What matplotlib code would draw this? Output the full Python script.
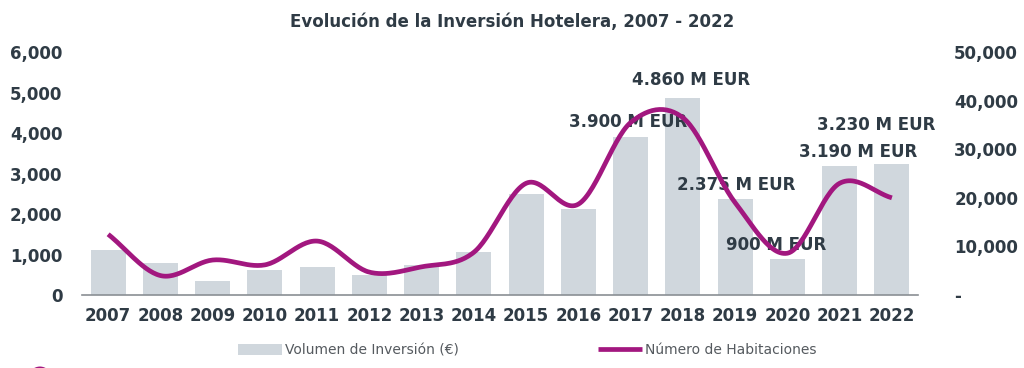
'''Evolucion de la inversion hotelera 2007-2022: barras de volumen y linea de habitaciones.'''

import numpy as np
import matplotlib
matplotlib.use('Agg')
import matplotlib.pyplot as plt
from matplotlib.ticker import FuncFormatter
from matplotlib.patches import Ellipse

YEARS = ['2007', '2008', '2009', '2010', '2011', '2012', '2013', '2014',
         '2015', '2016', '2017', '2018', '2019', '2020', '2021', '2022']
VOLUMEN = [1100, 800, 350, 620, 700, 490, 730, 1060,
           2490, 2120, 3900, 4860, 2375, 900, 3190, 3230]
HABITACIONES = [12500, 4000, 7200, 6200, 11100, 4700, 5800, 8800,
                23000, 18700, 35500, 36500, 19000, 8600, 23000, 20000]
LABELS = {10: '3.900 M EUR', 11: '4.860 M EUR', 12: '2.375 M EUR',
          13: '900 M EUR', 14: '3.190 M EUR', 15: '3.230 M EUR'}
LABEL_OFFSETS = {10: (-3, 15), 11: (8, 18), 12: (1, 14),
                 13: (-11, 14), 14: (18, 14), 15: (-16, 39)}

BAR_COLOR = '#d0d7dd'
LINE_COLOR = '#a2177f'
TEXT_COLOR = '#2f3b45'


def smooth(x, y, n=30):
    '''Curva suavizada tipo Excel (Catmull-Rom) a traves de los puntos.'''
    x = np.asarray(x, float)
    y = np.asarray(y, float)
    px = np.concatenate([[2 * x[0] - x[1]], x, [2 * x[-1] - x[-2]]])
    py = np.concatenate([[2 * y[0] - y[1]], y, [2 * y[-1] - y[-2]]])
    xs, ys = [], []
    t = np.linspace(0, 1, n)
    for i in range(1, len(px) - 2):
        for p, out in ((px, xs), (py, ys)):
            p0, p1, p2, p3 = p[i - 1], p[i], p[i + 1], p[i + 2]
            c1 = p1 + (p2 - p0) / 6
            c2 = p2 - (p3 - p1) / 6
            out.extend((1 - t) ** 3 * p1 + 3 * (1 - t) ** 2 * t * c1
                       + 3 * (1 - t) * t ** 2 * c2 + t ** 3 * p2)
    return np.array(xs), np.array(ys)


def main():
    plt.rcParams['font.family'] = ['DejaVu Sans']
    fig = plt.figure(figsize=(10.24, 3.68), dpi=100)
    ax = fig.add_axes([0.0801, 0.1984, 0.8164, 0.660])
    ax2 = ax.twinx()

    x = np.arange(len(YEARS))
    ax.bar(x, VOLUMEN, width=0.67, color=BAR_COLOR, label='Volumen de Inversión (€)', zorder=1)
    sx, sy = smooth(x, HABITACIONES)
    ax2.plot(sx, sy, color=LINE_COLOR, lw=3.4, solid_capstyle='butt',
             label='Número de Habitaciones')

    ax.set_xlim(-0.5, len(YEARS) - 0.5)
    ax.set_ylim(0, 6000)
    ax2.set_ylim(0, 50000)
    ax.set_yticks(range(0, 6001, 1000))
    ax2.set_yticks(range(0, 50001, 10000))
    ax.yaxis.set_major_formatter(FuncFormatter(lambda v, p: f'{int(v):,}'))
    ax2.yaxis.set_major_formatter(FuncFormatter(lambda v, p: f'{int(v):,}' if v > 0 else '-'))
    ax.set_xticks(x)
    ax.set_xticklabels(YEARS)

    for a in (ax, ax2):
        for s in a.spines.values():
            s.set_visible(False)
        a.tick_params(length=0, labelsize=12, labelcolor=TEXT_COLOR)
        for lab in a.get_xticklabels() + a.get_yticklabels():
            lab.set_fontweight('bold')
    ax.spines['bottom'].set_visible(True)
    ax.spines['bottom'].set_color('#8a8f94')
    ax.spines['bottom'].set_linewidth(1.2)
    ax.tick_params(axis='y', pad=14)
    ax.tick_params(axis='x', pad=9)
    ax2.tick_params(axis='y', pad=26)

    for i, txt in LABELS.items():
        dx, dy = LABEL_OFFSETS[i]
        ax.annotate(txt, (x[i], VOLUMEN[i]), xytext=(dx * 0.72, dy * 0.72),
                    textcoords='offset points', ha='center', va='center',
                    fontsize=12, fontweight='bold', color='#2f3b45', zorder=5)

    fig.text(0.5, 0.94, 'Evolución de la Inversión Hotelera, 2007 - 2022',
             ha='center', va='center', fontsize=12, fontweight='bold', color=TEXT_COLOR)

    h1, l1 = ax.get_legend_handles_labels()
    h2, l2 = ax2.get_legend_handles_labels()
    fig.legend(h1 + h2, l1 + l2, loc='center', bbox_to_anchor=(0.515, 0.048), ncol=2,
               frameon=False, fontsize=10, labelcolor='#555a5f', handlelength=3.2,
               handletextpad=0.2, columnspacing=10, handleheight=0.9)

    # trozo de circulo decorativo cortado en la esquina inferior
    fig.patches.append(Ellipse((0.039, -0.026), 0.022, 0.06, transform=fig.transFigure,
                               facecolor=LINE_COLOR, edgecolor='none'))

    fig.savefig('out.png', dpi=100)


if __name__ == '__main__':
    main()
